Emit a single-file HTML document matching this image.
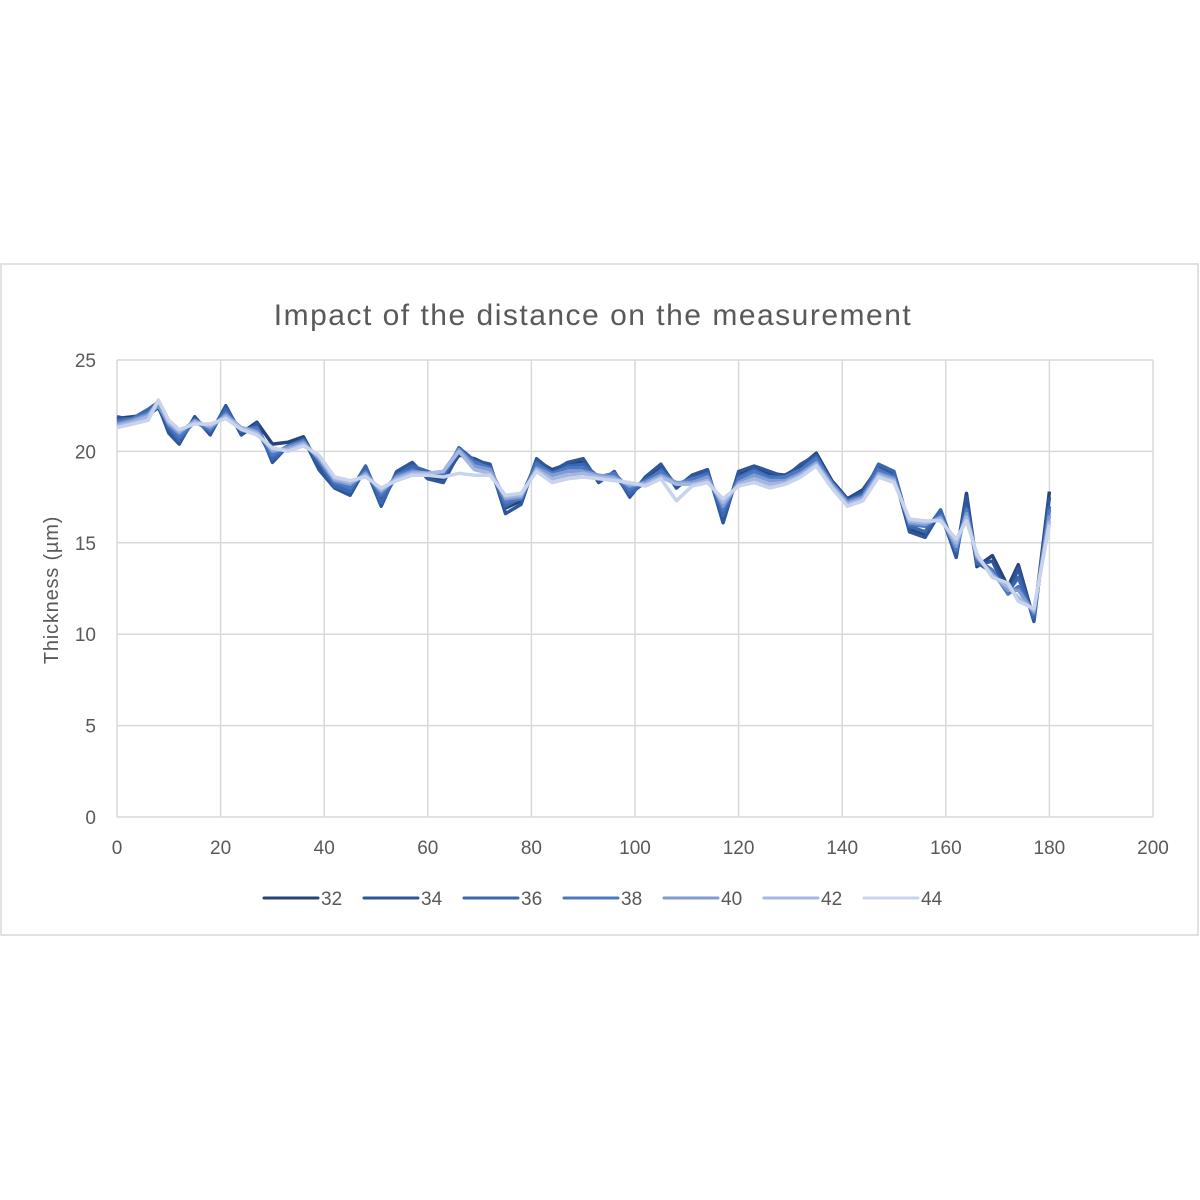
<!DOCTYPE html>
<html><head><meta charset="utf-8">
<style>
body{margin:0;background:#fff;font-family:"Liberation Sans",sans-serif;}
svg{display:block}
text{fill:#595959;font-family:"Liberation Sans",sans-serif}
</style></head>
<body>
<svg id="chart" width="1200" height="1200">
<rect x="1" y="264" width="1197" height="671" fill="#fff" stroke="#d9d9d9" stroke-width="1.5"/>
<text x="593" y="325" text-anchor="middle" font-size="30" letter-spacing="1.5">Impact of the distance on the measurement</text>
<g id="grid"></g>
<g id="ticks"></g>
<text transform="translate(58,590) rotate(-90)" text-anchor="middle" font-size="20" letter-spacing="0.8">Thickness (µm)</text>
<g id="series"></g>
<g id="legend"></g>
</svg>
<script>
const xs=[0,3,6,8,10,12,15,18,21,24,27,30,33,36,39,42,45,48,51,54,57,60,63,66,69,72,75,78,81,84,87,90,93,96,99,102,105,108,111,114,117,120,123,126,129,132,135,138,141,144,147,150,153,156,159,162,164,166,169,172,174,177,180];
const seriesNames=["32","34","36","38","40","42","44"];
const s32=[21.8,21.9,22.0,22.4,21.2,20.5,21.8,21.0,22.4,21.0,21.6,20.4,20.5,20.8,19.2,18.1,17.9,19.0,17.3,18.8,19.3,18.6,18.5,19.8,19.6,19.2,16.9,17.3,19.5,19.0,19.3,19.4,18.4,18.8,17.6,18.5,19.2,18.1,18.6,18.9,16.3,18.8,19.1,18.8,18.7,19.2,19.9,18.4,17.4,17.9,19.1,18.7,15.7,15.5,16.6,14.3,17.7,13.7,14.3,12.6,13.8,10.8,17.8];
const s34=[21.9,21.7,22.2,22.5,21.0,20.4,21.9,20.9,22.5,20.9,21.5,19.4,20.3,20.7,19.0,18.0,17.6,19.1,17.0,18.9,19.4,18.5,18.3,19.9,19.5,19.3,16.6,17.1,19.6,18.9,19.4,19.6,18.3,18.9,17.5,18.6,19.3,18.0,18.7,19.0,16.1,18.9,19.2,18.9,18.6,19.3,19.8,18.2,17.3,17.8,19.2,18.8,15.6,15.3,16.7,14.2,17.5,13.8,14.0,12.2,13.6,10.7,17.5];
const s36=[21.7,21.8,22.3,22.7,21.3,20.6,21.7,21.1,22.3,21.1,21.2,19.6,20.2,20.6,19.4,18.1,17.8,19.2,17.2,18.7,19.2,18.9,18.6,20.2,19.5,19.0,17.0,17.5,19.4,18.7,19.2,19.3,18.6,18.7,17.7,18.3,19.0,18.2,18.5,18.8,16.5,18.6,19.0,18.6,18.6,19.0,19.7,18.3,17.2,17.6,19.3,18.9,15.9,15.6,16.8,14.5,16.9,13.9,13.4,12.3,13.1,10.9,17.0];
const s38=[21.6,21.8,22.1,22.6,21.4,20.8,21.6,21.2,22.1,21.2,21.3,19.8,20.3,20.6,19.5,18.3,18.0,18.9,17.6,18.7,19.0,18.7,18.8,20.0,19.4,19.1,17.2,17.4,19.3,18.8,19.1,19.1,18.6,18.8,17.9,18.4,18.9,18.2,18.5,18.7,16.8,18.5,18.9,18.5,18.6,19.0,19.6,18.3,17.3,17.6,19.0,18.6,16.0,15.9,16.5,14.6,16.8,14.1,13.5,12.2,12.6,11.1,16.8];
const s40=[21.5,21.7,22.0,22.5,21.5,21.0,21.7,21.3,22.0,21.3,21.1,20.0,20.2,20.5,19.6,18.4,18.2,18.8,17.8,18.6,18.9,18.8,18.9,20.1,19.2,19.0,17.4,17.5,19.1,18.7,18.9,18.9,18.7,18.6,18.1,18.3,18.7,18.3,18.3,18.6,17.0,18.3,18.7,18.4,18.4,18.8,19.4,18.2,17.2,17.5,18.8,18.5,16.1,16.0,16.4,14.8,16.6,14.2,13.3,12.4,12.4,11.2,16.5];
const s42=[21.4,21.6,21.9,22.8,21.6,21.1,21.6,21.4,21.9,21.3,21.0,20.1,20.1,20.4,19.7,18.5,18.3,18.7,17.9,18.5,18.8,18.8,18.9,20.0,19.0,18.8,17.5,17.6,19.0,18.5,18.7,18.8,18.6,18.5,18.2,18.2,18.6,18.2,18.2,18.4,17.2,18.2,18.5,18.2,18.3,18.7,19.3,18.1,17.1,17.4,18.7,18.4,16.2,16.1,16.3,15.0,16.4,14.3,13.2,12.6,12.0,11.3,16.2];
const s44=[21.3,21.5,21.7,22.8,21.7,21.2,21.5,21.5,21.8,21.2,20.9,20.2,20.0,20.3,19.8,18.6,18.4,18.6,18.0,18.4,18.7,18.7,18.6,18.8,18.7,18.7,17.6,17.7,18.9,18.3,18.5,18.6,18.5,18.4,18.3,18.1,18.5,17.3,18.1,18.3,17.4,18.1,18.3,18.0,18.2,18.6,19.2,18.0,17.0,17.3,18.6,18.3,16.3,16.2,16.2,15.2,16.2,14.4,13.1,12.8,11.8,11.4,16.0];
const allSeries=[s32,s34,s36,s38,s40,s42,s44];
const colors=["#264478","#2f569a","#3a67b0","#4a78c4","#7f9bd2","#a4b7e0","#c8d3ec"];
const xTicks=[0,20,40,60,80,100,120,140,160,180,200];
const yTicks=[0,5,10,15,20,25];

const X0=117,X1=1153,Y0=817,Y1=360;
const xS=v=>X0+(v-0)/(200-0)*(X1-X0);
const yS=v=>Y0-(v-0)/(25-0)*(Y0-Y1);
const NS="http://www.w3.org/2000/svg";
function mk(tag,attrs,parent){const e=document.createElementNS(NS,tag);for(const k in attrs)e.setAttribute(k,attrs[k]);parent.appendChild(e);return e;}
const grid=document.getElementById('grid'),ticks=document.getElementById('ticks');
yTicks.forEach(t=>{
  const l=mk('line',{x1:X0,x2:X1,y1:yS(t),y2:yS(t),stroke:'#d9d9d9','stroke-width':1.5},grid);
  
  
  const tx=mk('text',{x:X0-21,y:yS(t)+7,'text-anchor':'end','font-size':19},ticks);
  tx.textContent=t;
  
  
});
xTicks.forEach(t=>{
  const l=mk('line',{x1:xS(t),x2:xS(t),y1:Y1,y2:Y0,stroke:'#d9d9d9','stroke-width':1.5},grid);
  
  
  const tx=mk('text',{x:xS(t),y:Y0+37,'text-anchor':'middle','font-size':19},ticks);
  tx.textContent=t;
  
  
});
const sg=document.getElementById('series');
allSeries.forEach((s,i)=>{
  const d=s.map((v,j)=>(j?'L':'M')+xS(xs[j]).toFixed(1)+' '+yS(v).toFixed(1)).join(' ');
  const p=mk('path',{d:d,fill:'none',stroke:colors[i],'stroke-width':3.5,'stroke-linejoin':'round'},sg);
  
  
});
const lg=document.getElementById('legend');
seriesNames.forEach((n,i)=>{
  const x=264+i*100;
  const g=mk('g',{},lg);
  
  
  mk('line',{x1:x,x2:x+54,y1:898,y2:898,stroke:colors[i],'stroke-width':3,'stroke-linecap':'round'},g);
  const t=mk('text',{x:x+57,y:905,'font-size':19},g);
  t.textContent=n;
});
</script>
</body></html>
